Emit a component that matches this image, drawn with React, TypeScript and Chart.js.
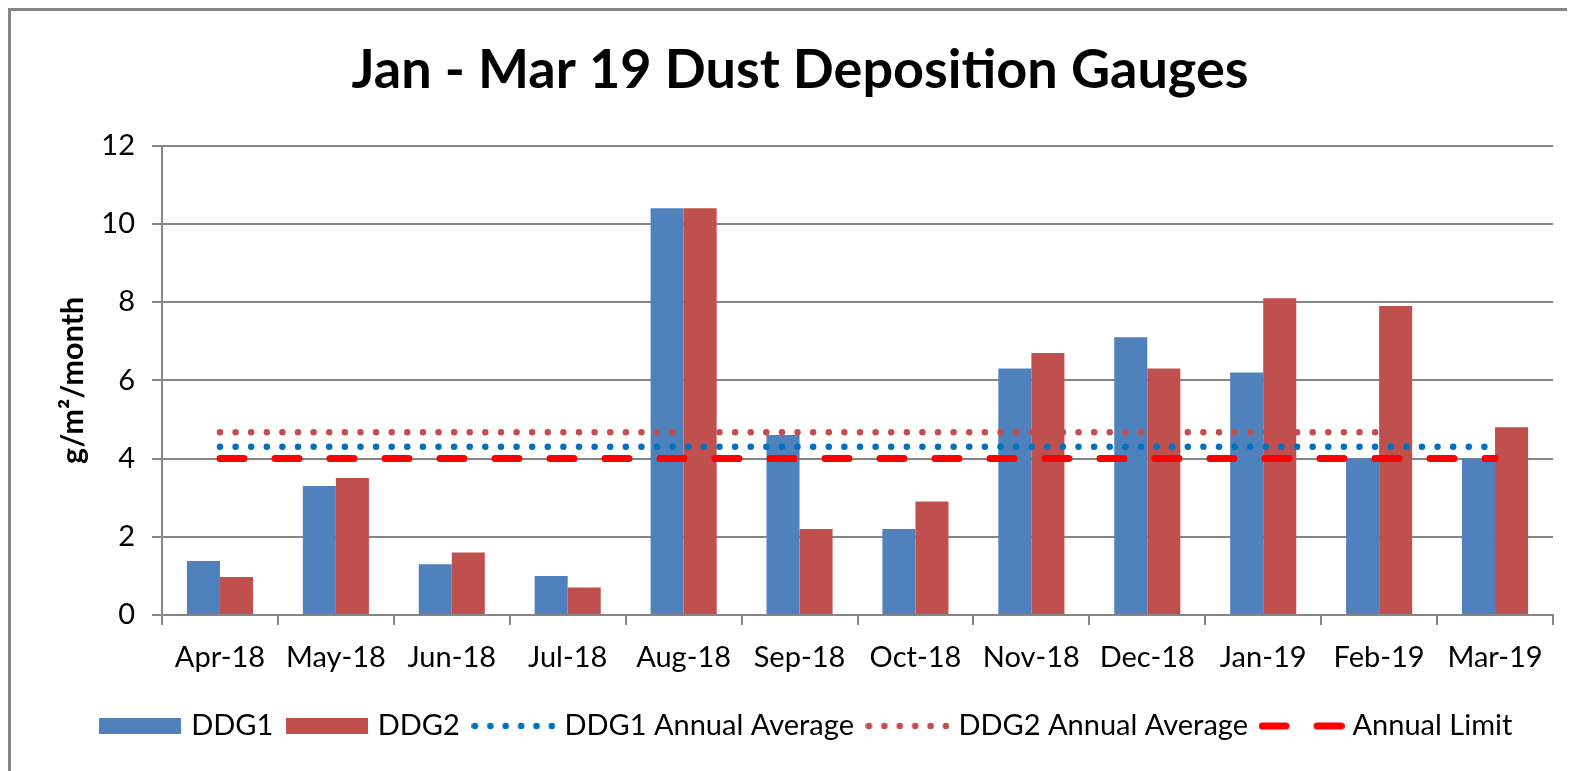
import React, { useEffect, useRef } from 'react';
import { Chart, registerables } from 'chart.js';

Chart.register(...registerables);

const categories = ['Apr-18', 'May-18', 'Jun-18', 'Jul-18', 'Aug-18', 'Sep-18', 'Oct-18', 'Nov-18', 'Dec-18', 'Jan-19', 'Feb-19', 'Mar-19'];
const ddg1 = [1.38, 3.3, 1.3, 1.0, 10.4, 4.6, 2.2, 6.3, 7.1, 6.2, 4.0, 4.0];
const ddg2 = [0.97, 3.5, 1.6, 0.7, 10.4, 2.2, 2.9, 6.7, 6.3, 8.1, 7.9, 4.8];
const ddg1Avg = [4.3, 4.3, 4.3, 4.3, 4.3, 4.3, 4.3, 4.3, 4.3, 4.3, 4.3, 4.3];
const ddg2Avg = [4.67, 4.67, 4.67, 4.67, 4.67, 4.67, 4.67, 4.67, 4.67, 4.67, 4.67, null];
const annualLimit = [4, 4, 4, 4, 4, 4, 4, 4, 4, 4, 4, 4];
const yMin = 0;
const yMax = 12;
const yStep = 2;

const BLUE = '#4F81BD';
const RED = '#C0504D';
const AVG_BLUE = '#0070C0';
const AVG_RED = '#C0504D';
const LIMIT = '#FF0000';
const GRID = '#868686';
const FONT = 'Lato';

function makeSwatch(kind: string, color: string): HTMLCanvasElement {
  const c = document.createElement('canvas');
  const ctx = c.getContext('2d')!;
  if (kind === 'bar') {
    c.width = 82;
    c.height = 16;
    ctx.fillStyle = color;
    ctx.fillRect(0, 0, 82, 16);
  } else if (kind === 'dots') {
    c.width = 84;
    c.height = 8;
    ctx.fillStyle = color;
    for (let i = 0; i < 6; i++) {
      ctx.beginPath();
      ctx.arc(3.5 + i * 15.4, 4, 3.3, 0, Math.PI * 2);
      ctx.fill();
    }
  } else {
    c.width = 86;
    c.height = 8;
    ctx.strokeStyle = color;
    ctx.lineWidth = 7;
    ctx.lineCap = 'round';
    ctx.beginPath();
    ctx.moveTo(3.5, 4);
    ctx.lineTo(27.5, 4);
    ctx.moveTo(58.5, 4);
    ctx.lineTo(82.5, 4);
    ctx.stroke();
  }
  return c;
}

const legendShift = {
  id: 'legendShift',
  afterLayout(chart: any) {
    const l = chart.legend;
    if (l) {
      l.left += 8;
      l.right += 8;
    }
  },
};

export default function App() {
  const ref = useRef<HTMLCanvasElement>(null);

  useEffect(() => {
    document.documentElement.style.overflow = 'hidden';
    document.body.style.overflow = 'hidden';
    const legendDefs = [
      { text: 'DDG1', img: makeSwatch('bar', BLUE), color: BLUE, idx: 0 },
      { text: 'DDG2', img: makeSwatch('bar', RED), color: RED, idx: 1 },
      { text: 'DDG1 Annual Average', img: makeSwatch('dots', AVG_BLUE), color: AVG_BLUE, idx: 2 },
      { text: 'DDG2 Annual Average', img: makeSwatch('dots', AVG_RED), color: AVG_RED, idx: 3 },
      { text: 'Annual Limit', img: makeSwatch('dash', LIMIT), color: LIMIT, idx: 4 },
    ];
    const chart = new Chart(ref.current!, {
      type: 'bar',
      data: {
        labels: categories,
        datasets: [
          { type: 'bar', label: 'DDG1', data: ddg1, backgroundColor: BLUE, borderWidth: 0, categoryPercentage: 0.57, barPercentage: 1.0, order: 1 },
          { type: 'bar', label: 'DDG2', data: ddg2, backgroundColor: RED, borderWidth: 0, categoryPercentage: 0.57, barPercentage: 1.0, order: 1 },
          { type: 'line', label: 'DDG1 Annual Average', data: ddg1Avg, borderColor: AVG_BLUE, borderWidth: 6.5, borderDash: [0.01, 15.6], borderCapStyle: 'round', pointRadius: 0, fill: false, tension: 0, order: 0 },
          { type: 'line', label: 'DDG2 Annual Average', data: ddg2Avg, borderColor: AVG_RED, borderWidth: 6.5, borderDash: [0.01, 15.6], borderCapStyle: 'round', pointRadius: 0, fill: false, tension: 0, order: 0 },
          { type: 'line', label: 'Annual Limit', data: annualLimit, borderColor: LIMIT, borderWidth: 7, borderDash: [24, 31], borderCapStyle: 'round', pointRadius: 0, fill: false, tension: 0, order: 0 },
        ] as any,
      },
      options: {
        responsive: false,
        animation: false,
        events: [],
        layout: { padding: { left: 36, right: 14, top: 0, bottom: 20.5 } },
        plugins: {
          title: {
            display: true,
            text: 'Jan - Mar 19 Dust Deposition Gauges',
            color: '#000',
            font: { family: FONT, size: 54, weight: 'bold', lineHeight: 1.2 },
            padding: { top: 27.1, bottom: 42.8 },
          },
          legend: {
            position: 'bottom',
            labels: {
              usePointStyle: true,
              pointStyleWidth: 73,
              boxHeight: 16,
              padding: 17,
              color: '#000',
              font: { family: FONT, size: 29 },
              generateLabels: () =>
                legendDefs.map((d) => ({
                  text: d.text,
                  fillStyle: d.color,
                  strokeStyle: d.color,
                  lineWidth: 0,
                  pointStyle: d.img as any,
                  hidden: false,
                  datasetIndex: d.idx,
                  fontColor: '#000',
                })),
            },
          },
          tooltip: { enabled: false },
        },
        scales: {
          x: {
            grid: { display: true, drawOnChartArea: false, drawTicks: true, tickLength: 10, color: GRID, lineWidth: 2, offset: true },
            border: { display: true, color: GRID, width: 2 },
            ticks: { color: '#000', font: { family: FONT, size: 29 }, padding: 15, maxRotation: 0, minRotation: 0, autoSkip: false },
            afterFit: (s: any) => { s.height = 79.5; },
          },
          y: {
            min: yMin,
            max: yMax,
            ticks: { stepSize: yStep, padding: 17, color: '#000', font: { family: FONT, size: 29 } },
            grid: { color: GRID, lineWidth: 2, tickLength: 10, drawTicks: true },
            border: { display: true, color: GRID, width: 2 },
            title: { display: true, text: 'g/m²/month', color: '#000', font: { family: FONT, size: 30.5, weight: 'bold', lineHeight: 1.2 }, padding: { top: 8, bottom: 0 } },
            afterFit: (s: any) => { s.width = 115; },
          },
        },
      } as any,
      plugins: [legendShift],
    });
    return () => chart.destroy();
  }, []);

  return (
    <div style={{ borderLeft: `3px solid ${GRID}`, borderTop: `3px solid ${GRID}`, width: 1556, height: 760, background: '#fff' }}>
      <canvas ref={ref} width={1556} height={760} style={{ display: 'block' }} />
    </div>
  );
}
